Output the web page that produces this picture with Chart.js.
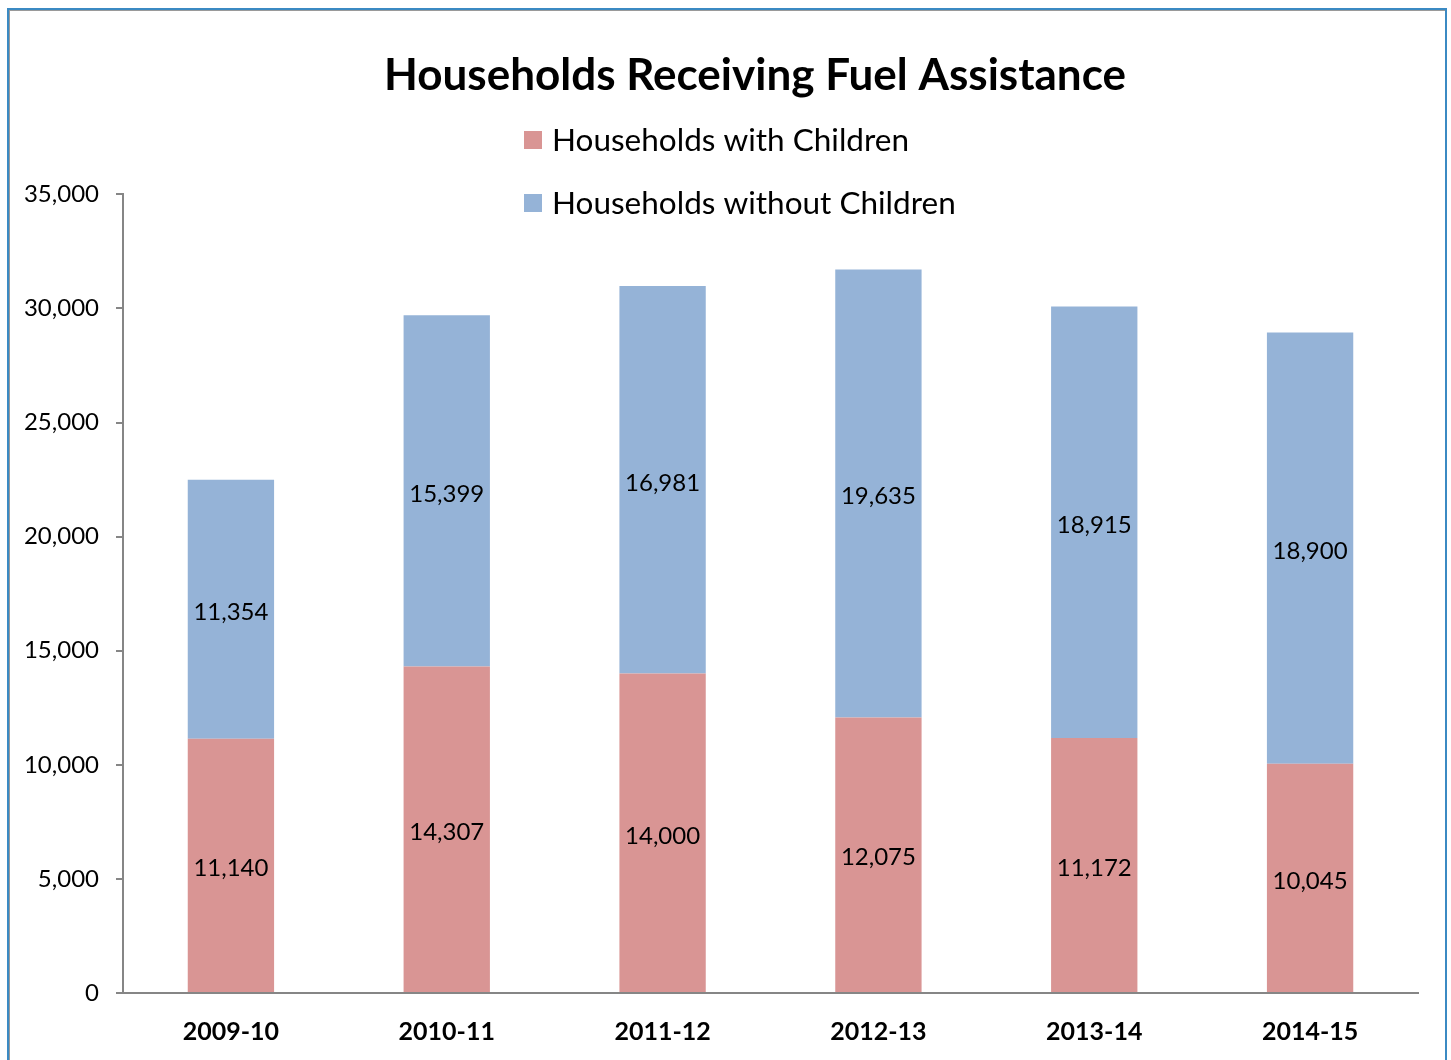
<!DOCTYPE html>
<html>
<head>
<meta charset="utf-8">
<title>Households Receiving Fuel Assistance</title>
<script src="https://cdn.jsdelivr.net/npm/chart.js@4.4.1/dist/chart.umd.min.js"></script>
<style>
    html, body { margin: 0; padding: 0; background: #fff; overflow: hidden; }
    #wrap { position: relative; width: 1451px; height: 1060px; }
    #frame {
        position: absolute; left: 7px; top: 8px; width: 1436px; height: 1100px;
        border: 2px solid #3b8ac3;
        box-shadow: inset 1px 1px 0 #9a9a9a;
    }
    canvas { position: absolute; left: 0; top: 0; }
</style>
</head>
<body>
<div id="wrap">
    <div id="frame"></div>
    <canvas id="fuelChart" width="1451" height="1060"></canvas>
</div>
<script>
const seasons = ['2009-10', '2010-11', '2011-12', '2012-13', '2013-14', '2014-15'];
const withChildren = [11140, 14307, 14000, 12075, 11172, 10045];
const withoutChildren = [11354, 15399, 16981, 19635, 18915, 18900];
const yTicks = [0, 5000, 10000, 15000, 20000, 25000, 30000, 35000];

const FONT = 'Lato, "Open Sans", sans-serif';
const pink = '#d99594';
const blue = '#95b3d7';

// value printed in the middle of every stacked segment
const segmentLabels = {
    id: 'segmentLabels',
    afterDatasetsDraw(chart) {
        const ctx = chart.ctx;
        ctx.save();
        ctx.font = '24px ' + FONT;
        ctx.fillStyle = '#000';
        ctx.textAlign = 'center';
        ctx.textBaseline = 'middle';
        chart.data.datasets.forEach((ds, i) => {
            chart.getDatasetMeta(i).data.forEach((bar, j) => {
                const mid = (bar.y + bar.base) / 2 + 3;
                ctx.fillText(ds.data[j].toLocaleString('en-US'), bar.x, mid);
            });
        });
        ctx.restore();
    }
};

// two stacked legend rows, left aligned, sitting over the top of the plot
const stackedLegend = {
    id: 'stackedLegend',
    afterDraw(chart) {
        const ctx = chart.ctx;
        const left = 524;
        const rows = [140, 203];
        ctx.save();
        ctx.font = '31.5px ' + FONT;
        ctx.textBaseline = 'middle';
        ctx.textAlign = 'left';
        chart.data.datasets.forEach((ds, i) => {
            const y = rows[i];
            ctx.fillStyle = ds.backgroundColor;
            ctx.fillRect(left, y - 9, 18, 18);
            ctx.fillStyle = '#000';
            ctx.fillText(ds.label, left + 28, y + 1);
        });
        ctx.restore();
    }
};

// title is centred over the plot plus its axis, not the whole canvas
const titleOffset = {
    id: 'titleOffset',
    afterLayout(chart) {
        if (chart.titleBlock) chart.titleBlock.left = 92;
    }
};

new Chart(document.getElementById('fuelChart'), {
    type: 'bar',
    data: {
        labels: seasons,
        datasets: [
            { label: 'Households with Children', data: withChildren, backgroundColor: pink },
            { label: 'Households without Children', data: withoutChildren, backgroundColor: blue }
        ]
    },
    options: {
        responsive: false,
        animation: false,
        categoryPercentage: 1,
        barPercentage: 0.4,
        layout: { padding: { left: 0, right: 33, top: 0, bottom: 0 } },
        plugins: {
            legend: { display: false },
            tooltip: { enabled: false },
            title: {
                display: true,
                text: 'Households Receiving Fuel Assistance',
                color: '#000',
                font: { family: FONT, size: 44, weight: 'bold', lineHeight: 1.1 },
                padding: { top: 52, bottom: 94 }
            }
        },
        scales: {
            x: {
                stacked: true,
                grid: { display: false, drawTicks: false },
                border: { display: true, color: '#868686', width: 2 },
                ticks: {
                    color: '#000',
                    padding: 24,
                    font: { family: FONT, size: 25, weight: 'bold' }
                },
                afterFit(scale) { scale.height = 67; }
            },
            y: {
                stacked: true,
                min: 0,
                max: 35000,
                afterBuildTicks(scale) { scale.ticks = yTicks.map(v => ({ value: v })); },
                grid: {
                    drawOnChartArea: false,
                    drawTicks: true,
                    tickLength: 7,
                    color: '#868686',
                    lineWidth: 2
                },
                border: { display: true, color: '#868686', width: 2 },
                ticks: {
                    color: '#000',
                    padding: 17,
                    font: { family: FONT, size: 24 },
                    callback: v => v.toLocaleString('en-US')
                },
                afterFit(scale) { scale.width = 123; }
            }
        }
    },
    plugins: [segmentLabels, stackedLegend, titleOffset]
});
</script>
</body>
</html>
